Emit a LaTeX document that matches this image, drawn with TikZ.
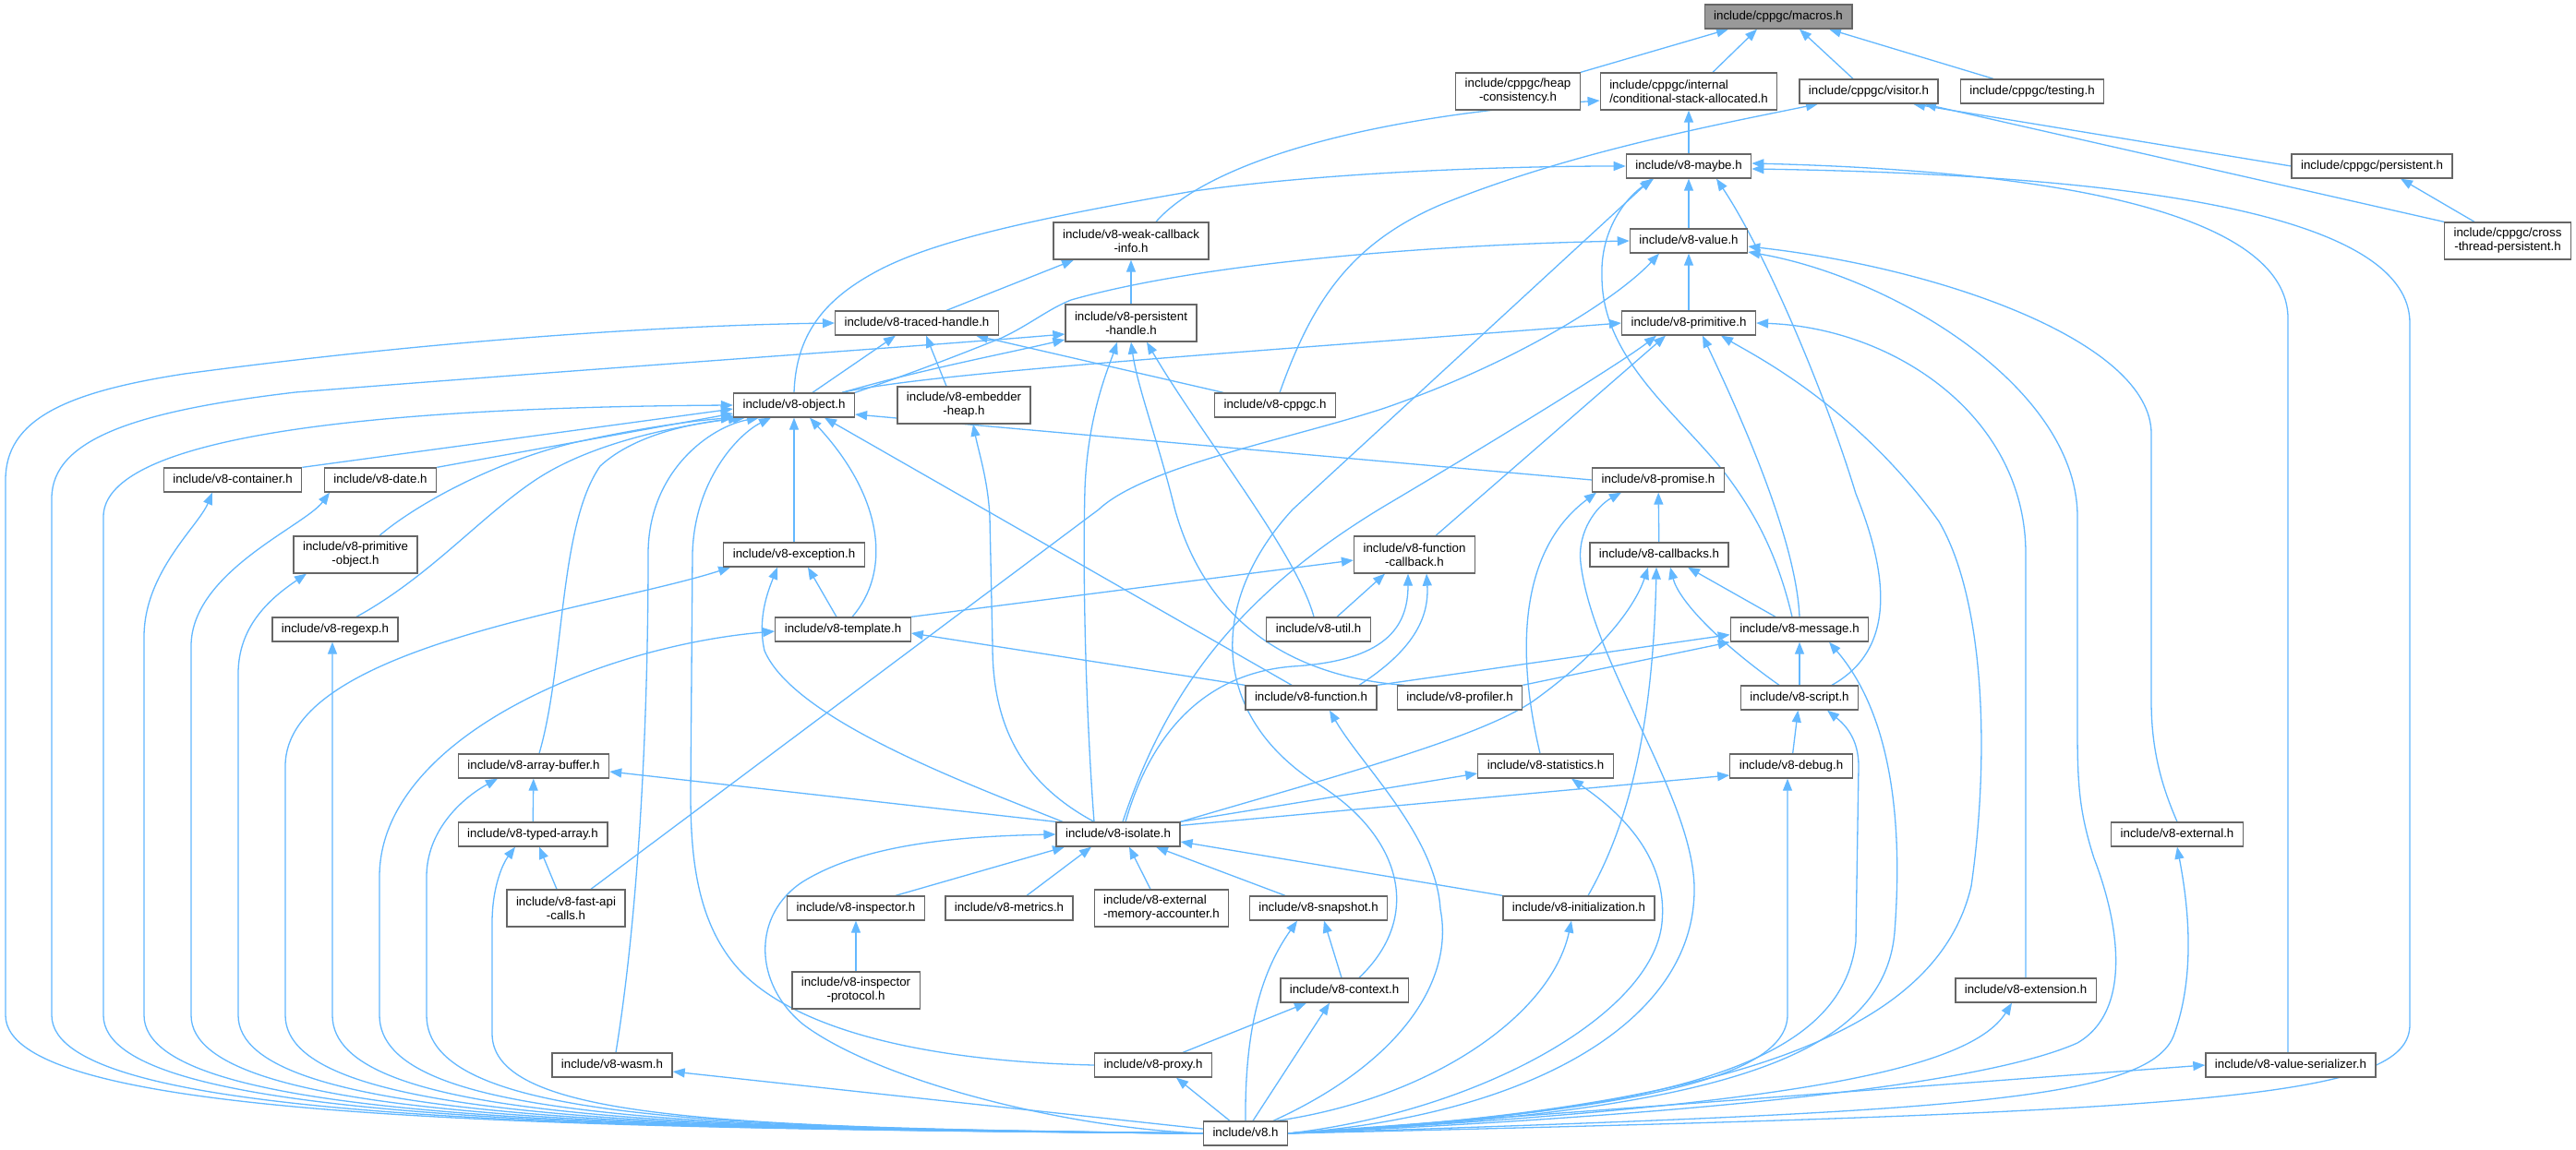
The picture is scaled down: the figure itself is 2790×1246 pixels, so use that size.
\documentclass[tikz,border=0pt]{standalone}
\usepackage{fontspec}
\setmainfont{Liberation Sans}
\usetikzlibrary{arrows.meta,backgrounds}
\definecolor{edgeblue}{HTML}{63B8FF}
\definecolor{boxframe}{HTML}{666666}
\definecolor{rootfill}{HTML}{999999}

\begin{document}
\begin{tikzpicture}[x=1pt,y=-1pt,
  hfile/.style={draw=boxframe,fill=white,line width=1.3pt,inner xsep=10pt,inner ysep=2pt,
    minimum height=26pt,text height=9.7pt,text depth=2.8pt,font=\fontsize{13.3}{15}\selectfont},
  twoline/.style={minimum height=40pt,align=center,text height={},text depth={}},
  root/.style={fill=rootfill},
  dep/.style={draw=edgeblue,line width=1.3pt,-{Triangle[length=13pt,width=10pt]}}]
\useasboundingbox (0,0) rectangle (2790,1246);

% files, row by row
\node[hfile,root] (macros) at (1926,18) {include/cppgc/macros.h};
\node[hfile,twoline] (heap) at (1644,99) {include/cppgc/heap\\-consistency.h};
\node[hfile,twoline,align=left] (cond) at (1829,99) {include/cppgc/internal\\/conditional-stack-allocated.h};
\node[hfile] (visitor) at (2024,99) {include/cppgc/visitor.h};
\node[hfile] (testing) at (2201,99) {include/cppgc/testing.h};
\node[hfile] (maybe) at (1829,180) {include/v8-maybe.h};
\node[hfile] (cppgcpers) at (2569,180) {include/cppgc/persistent.h};
\node[hfile,twoline] (cross) at (2716,261) {include/cppgc/cross\\-thread-persistent.h};
\node[hfile] (value) at (1829,261) {include/v8-value.h};
\node[hfile,twoline] (weak) at (1225,261) {include/v8-weak-callback\\-info.h};
\node[hfile] (primitive) at (1829,350) {include/v8-primitive.h};
\node[hfile,twoline] (persistent) at (1225,350) {include/v8-persistent\\-handle.h};
\node[hfile] (traced) at (993,350) {include/v8-traced-handle.h};
\node[hfile] (object) at (860,439) {include/v8-object.h};
\node[hfile,twoline] (embedder) at (1044,439) {include/v8-embedder\\-heap.h};
\node[hfile] (cppgc) at (1381,439) {include/v8-cppgc.h};
\node[hfile] (container) at (252,520) {include/v8-container.h};
\node[hfile] (date) at (412,520) {include/v8-date.h};
\node[hfile] (promise) at (1796,520) {include/v8-promise.h};
\node[hfile,twoline] (primobj) at (385,601) {include/v8-primitive\\-object.h};
\node[hfile] (exception) at (860,601) {include/v8-exception.h};
\node[hfile,twoline] (fcallback) at (1532,601) {include/v8-function\\-callback.h};
\node[hfile] (callbacks) at (1797,601) {include/v8-callbacks.h};
\node[hfile] (regexp) at (363,682) {include/v8-regexp.h};
\node[hfile] (template) at (913,682) {include/v8-template.h};
\node[hfile] (util) at (1428,682) {include/v8-util.h};
\node[hfile] (message) at (1949,682) {include/v8-message.h};
\node[hfile] (function) at (1420,756) {include/v8-function.h};
\node[hfile] (profiler) at (1581,756) {include/v8-profiler.h};
\node[hfile] (script) at (1949,756) {include/v8-script.h};
\node[hfile] (arraybuf) at (578,830) {include/v8-array-buffer.h};
\node[hfile] (statistics) at (1674,830) {include/v8-statistics.h};
\node[hfile] (debug) at (1940,830) {include/v8-debug.h};
\node[hfile] (isolate) at (1211,904) {include/v8-isolate.h};
\node[hfile] (typed) at (577,904) {include/v8-typed-array.h};
\node[hfile] (external) at (2358,904) {include/v8-external.h};
\node[hfile,twoline] (fastapi) at (613,984) {include/v8-fast-api\\-calls.h};
\node[hfile] (inspector) at (927,984) {include/v8-inspector.h};
\node[hfile] (metrics) at (1093,984) {include/v8-metrics.h};
\node[hfile,twoline,align=left] (extmem) at (1258,984) {include/v8-external\\-memory-accounter.h};
\node[hfile] (snapshot) at (1428,984) {include/v8-snapshot.h};
\node[hfile] (init) at (1710,984) {include/v8-initialization.h};
\node[hfile,twoline] (inspprot) at (927,1073) {include/v8-inspector\\-protocol.h};
\node[hfile] (context) at (1456,1073) {include/v8-context.h};
\node[hfile] (extension) at (2194,1073) {include/v8-extension.h};
\node[hfile] (wasm) at (663,1154) {include/v8-wasm.h};
\node[hfile] (proxy) at (1249,1154) {include/v8-proxy.h};
\node[hfile] (valueser) at (2481,1154) {include/v8-value-serializer.h};
\node[hfile] (v8) at (1349,1228) {include/v8.h};

\begin{scope}[on background layer]
\fill[white] (0,0) rectangle (2790,1246);

% short straight includes
\foreach \a/\b in {maybe/cond,value/maybe,primitive/value,persistent/weak,exception/object,
  callbacks/promise,debug/script,script/message,typed/arraybuf,inspprot/inspector}
  \draw[dep] (\a) -- (\b);

% cppgc headers
\draw[dep] (heap.north east) -- ([xshift=-54pt]macros.south);
\draw[dep] ([xshift=26pt]cond.north) -- ([xshift=-23pt]macros.south);
\draw[dep] ([xshift=-17pt]visitor.north) -- ([xshift=23pt]macros.south);
\draw[dep] ([xshift=-42pt]testing.north) -- ([xshift=55pt]macros.south);
\draw[dep] ([xshift=27pt]weak.north) .. controls (1300,185) and (1450,128) .. ([yshift=-10pt]cond.west);
\draw[dep] ([xshift=5pt]cppgc.north) .. controls (1420,330) and (1460,265) .. (1560,222) .. controls (1700,165) and (1860,135) .. ([xshift=-55pt]visitor.south);
\draw[dep] (cppgcpers.west) -- ([xshift=48pt]visitor.south);
\draw[dep] (cross.north west) -- ([xshift=60pt]visitor.south);
\draw[dep] ([xshift=-36pt]cross.north) -- ([xshift=31pt]cppgcpers.south);

% v8-maybe.h
\draw[dep] (object.north) .. controls (862,370) and (885,330) .. (944,297) .. controls (1000,265) and (1100,240) .. (1293,207) .. controls (1450,185) and (1650,180) .. (maybe.west);
\draw[dep] ([xshift=16pt]context.north) .. controls (1545,990) and (1515,900) .. (1420,845) .. controls (1310,770) and (1310,650) .. (1400,552) -- ([xshift=-40pt]maybe.south);
\draw[dep] ([xshift=-8pt]message.north) .. controls (1925,600) and (1900,555) .. (1870,515) .. controls (1820,450) and (1735,390) .. (1735,300) .. controls (1733,250) and (1760,215) .. ([xshift=-38pt]maybe.south);
\draw[dep] ([xshift=35pt]script.north) .. controls (2060,700) and (2040,610) .. (2010,535) .. controls (1975,420) and (1910,270) .. ([xshift=30pt]maybe.south);
\draw[dep] ([xshift=-3pt]valueser.north) -- (2478,345) .. controls (2478,250) and (2300,187) .. ([yshift=3pt]maybe.east);
\draw[dep] (v8.east) .. controls (2400,1205) and (2610,1190) .. (2610,1110) -- (2610,350) .. controls (2610,240) and (2350,190) .. ([yshift=-3pt]maybe.east);

% v8-value.h
\draw[dep] (object.north east) .. controls (1000,400) and (1050,380) .. (1085,366) .. controls (1115,352) and (1135,335) .. (1160,325) .. controls (1300,285) and (1550,265) .. (value.west);
\draw[dep] (external.north) .. controls (2345,860) and (2330,820) .. (2330,760) -- (2330,470) .. controls (2330,370) and (2100,290) .. ([yshift=-6pt]value.east);
\draw[dep] (v8.east) .. controls (1900,1205) and (2160,1170) .. (2250,1130) .. controls (2310,1095) and (2295,1000) .. (2268,930) .. controls (2252,880) and (2250,850) .. (2250,790) -- (2250,560) .. controls (2250,420) and (2050,300) .. ([yshift=-12pt]value.east);
\draw[dep] ([xshift=27pt]fastapi.north) -- (1190,552) .. controls (1240,505) and (1400,475) .. (1500,442) .. controls (1650,390) and (1755,320) .. ([xshift=-32pt]value.south);

% v8-primitive.h
\draw[dep] ([xshift=52pt]object.north) .. controls (1000,405) and (1300,385) .. (primitive.west);
\draw[dep] (extension.north) -- (2194,600) .. controls (2194,450) and (2050,355) .. (primitive.east);
\draw[dep] ([xshift=23pt]fcallback.north) -- ([xshift=-25pt]primitive.south);
\draw[dep] (message.north) .. controls (1945,580) and (1880,440) .. ([xshift=15pt]primitive.south);
\draw[dep] ([xshift=5pt]isolate.north) .. controls (1260,760) and (1330,650) .. (1500,548) .. controls (1640,465) and (1760,390) .. ([xshift=-35pt]primitive.south);
\draw[dep] (v8.east) .. controls (1900,1200) and (2100,1110) .. (2135,960) .. controls (2155,820) and (2150,650) .. (2100,565) .. controls (2010,440) and (1900,385) .. ([xshift=35pt]primitive.south);

% handles and weak callbacks
\draw[dep] ([xshift=32pt]traced.north) -- ([xshift=-62pt]weak.south);
\draw[dep] ([xshift=52pt]object.north) .. controls (1000,400) and (1080,385) .. ([yshift=-18pt]persistent.west);
\draw[dep] ([xshift=-26pt]isolate.north) .. controls (1178,800) and (1172,650) .. (1175,530) .. controls (1178,450) and (1200,400) .. ([xshift=-15pt]persistent.south);
\draw[dep] ([xshift=-5pt]util.north) .. controls (1405,600) and (1300,470) .. ([xshift=17pt]persistent.south);
\draw[dep] ([xshift=-60pt]profiler.north) .. controls (1420,735) and (1310,690) .. (1272,550) .. controls (1255,480) and (1232,420) .. (persistent.south);
\draw[dep] ([xshift=20pt]object.north) -- ([xshift=-23pt]traced.south);
\draw[dep] ([xshift=-19pt]embedder.north) -- ([xshift=10pt]traced.south);
\draw[dep] ([xshift=-56pt]cppgc.north) -- ([xshift=64pt]traced.south);
\draw[dep] ([xshift=-26pt]isolate.north) .. controls (1110,850) and (1075,790) .. (1075,700) -- (1072,560) .. controls (1070,520) and (1060,490) .. ([xshift=10pt]embedder.south);

% v8-object.h
\draw[dep] (container.north east) -- ([yshift=-4pt]object.west);
\draw[dep] (date.north east) -- ([yshift=-9pt]object.west);
\draw[dep] ([xshift=26pt]primobj.north) .. controls (440,555) and (520,505) .. (620,480) .. controls (700,462) and (760,455) .. (object.south west);
\draw[dep] ([xshift=23pt]regexp.north) .. controls (465,625) and (520,560) .. (580,520) .. controls (640,480) and (730,462) .. ([xshift=8pt]object.south west);
\draw[dep] ([xshift=6pt]arraybuf.north) .. controls (612,720) and (605,570) .. (650,505) .. controls (690,468) and (760,457) .. ([xshift=-53pt]object.south);
\draw[dep] ([xshift=4pt]wasm.north) .. controls (690,1000) and (702,800) .. (702,600) .. controls (702,510) and (770,462) .. ([xshift=-38pt]object.south);
\draw[dep] (proxy.west) .. controls (1000,1150) and (860,1115) .. (800,1050) .. controls (755,1000) and (748,930) .. (748,860) -- (750,600) .. controls (752,520) and (800,470) .. ([xshift=-25pt]object.south);
\draw[dep] ([xshift=10pt]template.north) .. controls (965,620) and (958,540) .. ([xshift=17pt]object.south);
\draw[dep] ([xshift=-21pt]function.north) -- ([xshift=33pt]object.south);
\draw[dep] (promise.west) -- ([yshift=-10pt]object.east);

% exception, template, function callback
\draw[dep] ([xshift=-7pt]template.north) -- ([xshift=15pt]exception.south);
\draw[dep] ([xshift=-60pt]isolate.north) .. controls (1050,850) and (860,780) .. (828,705) .. controls (820,670) and (832,640) .. ([xshift=-18pt]exception.south);
\draw[dep] (template.north east) -- ([yshift=-6pt]fcallback.west);
\draw[dep] ([xshift=20pt]util.north) -- ([xshift=-32pt]fcallback.south);
\draw[dep] ([xshift=52pt]function.north) .. controls (1530,705) and (1548,670) .. ([xshift=13pt]fcallback.south);
\draw[dep] ([xshift=8pt]isolate.north) .. controls (1245,800) and (1300,730) .. (1400,722) .. controls (1500,716) and (1525,680) .. ([xshift=-7pt]fcallback.south);
\draw[dep] (function.north west) -- ([yshift=-4pt]template.east);

% callbacks, promise, message
\draw[dep] ([xshift=-26pt]message.north) -- ([xshift=31pt]callbacks.south);
\draw[dep] ([xshift=-22pt]script.north) .. controls (1860,695) and (1818,650) .. ([xshift=12pt]callbacks.south);
\draw[dep] (isolate.north east) .. controls (1450,840) and (1600,800) .. (1660,760) .. controls (1730,710) and (1770,660) .. ([xshift=-12pt]callbacks.south);
\draw[dep] ([xshift=10pt]init.north) .. controls (1760,900) and (1790,800) .. ([xshift=-3pt]callbacks.south);
\draw[dep] ([xshift=-6pt]statistics.north) .. controls (1645,720) and (1640,600) .. ([xshift=5pt]promise.south west);
\draw[dep] (function.north east) -- ([yshift=8pt]message.south west);
\draw[dep] (profiler.north east) -- (message.south west);

% v8-isolate.h and its neighbours
\draw[dep] (isolate.north west) -- ([yshift=-6pt]arraybuf.east);
\draw[dep] (isolate.north east) -- ([yshift=-8pt]statistics.west);
\draw[dep] ([yshift=-4pt]isolate.north east) -- ([yshift=-10pt]debug.west);
\draw[dep] ([xshift=-10pt]fastapi.north) -- ([xshift=7pt]typed.south);
\draw[dep] ([xshift=43pt]inspector.north) -- ([xshift=-58pt]isolate.south);
\draw[dep] ([xshift=19pt]metrics.north) -- ([xshift=-29pt]isolate.south);
\draw[dep] ([xshift=-12pt]extmem.north) -- ([xshift=12pt]isolate.south);
\draw[dep] ([xshift=-36pt]snapshot.north) -- ([xshift=41pt]isolate.south);
\draw[dep] (init.north west) -- ([yshift=-8pt]isolate.east);
\draw[dep] ([xshift=-3pt]context.north) -- ([xshift=6pt]snapshot.south);
\draw[dep] ([xshift=32pt]proxy.north) -- ([xshift=-41pt]context.south);

% include/v8.h, left bundle
\draw[dep] (v8.west) .. controls (600,1222) and (6,1215) .. (6,1100) -- (6,520) .. controls (6,455) and (70,425) .. (200,405) .. controls (500,365) and (750,352) .. (traced.west);
\draw[dep] (v8.west) .. controls (620,1222) and (56,1215) .. (56,1100) -- (56,540) .. controls (56,475) and (150,445) .. (320,425) .. controls (700,395) and (1000,375) .. ([yshift=-12pt]persistent.west);
\draw[dep] (v8.west) .. controls (640,1222) and (112,1215) .. (112,1100) -- (112,560) .. controls (112,490) and (300,442) .. (object.west);
\draw[dep] (v8.west) .. controls (660,1222) and (156,1215) .. (156,1100) -- (156,690) .. controls (156,620) and (215,570) .. ([xshift=-22pt]container.south);
\draw[dep] (v8.west) .. controls (680,1222) and (207,1215) .. (207,1100) -- (207,700) .. controls (207,620) and (330,570) .. ([xshift=-55pt]date.south);
\draw[dep] (v8.west) .. controls (700,1222) and (258,1215) .. (258,1100) -- (258,730) .. controls (258,680) and (290,650) .. ([xshift=-53pt]primobj.south);
\draw[dep] (v8.west) .. controls (720,1222) and (309,1215) .. (309,1100) -- (309,830) .. controls (309,700) and (650,660) .. ([xshift=8pt]exception.south west);
\draw[dep] (v8.west) .. controls (740,1222) and (360,1215) .. (360,1100) -- ([xshift=-3pt]regexp.south);
\draw[dep] (v8.west) .. controls (760,1222) and (411,1215) .. (411,1100) -- (411,950) .. controls (411,800) and (650,700) .. ([yshift=-2pt]template.west);
\draw[dep] (v8.west) .. controls (780,1222) and (462,1215) .. (462,1100) -- (462,950) .. controls (462,900) and (500,865) .. ([xshift=-39pt]arraybuf.south);
\draw[dep] (v8.west) .. controls (800,1222) and (533,1215) .. (533,1120) -- (533,1000) .. controls (533,960) and (545,935) .. ([xshift=-19pt]typed.south);
\draw[dep] (v8.west) .. controls (1150,1222) and (950,1170) .. (870,1110) .. controls (815,1065) and (815,990) .. (870,955) .. controls (940,912) and (1050,906) .. (isolate.west);
\draw[dep] (v8) -- (wasm);

% include/v8.h, middle
\draw[dep] ([xshift=-17pt]v8.north) -- ([xshift=25pt]proxy.south);
\draw[dep] ([xshift=8pt]v8.north) -- ([xshift=-16pt]context.south);
\draw[dep] (v8.north) .. controls (1348,1110) and (1368,1050) .. ([xshift=-23pt]snapshot.south);
\draw[dep] ([xshift=30pt]v8.north) .. controls (1520,1150) and (1575,1060) .. (1560,985) .. controls (1555,905) and (1475,830) .. ([xshift=20pt]function.south);
\draw[dep] ([xshift=34pt]v8.north) .. controls (1550,1190) and (1680,1100) .. ([xshift=-8pt]init.south);

% include/v8.h, right side
\draw[dep] (v8.east) .. controls (1650,1210) and (1838,1110) .. (1835,960) .. controls (1832,860) and (1725,720) .. (1712,610) .. controls (1708,575) and (1730,548) .. ([xshift=-40pt]promise.south);
\draw[dep] (v8.east) .. controls (1600,1205) and (1790,1100) .. (1800,1000) .. controls (1808,920) and (1740,870) .. ([xshift=28pt]statistics.south);
\draw[dep] (v8.east) .. controls (1760,1205) and (1935,1170) .. (1936,1100) -- ([xshift=-4pt]debug.south);
\draw[dep] (v8.east) .. controls (1820,1205) and (1995,1150) .. (2010,1020) -- (2013,830) .. controls (2013,800) and (1998,785) .. ([xshift=30pt]script.south);
\draw[dep] (v8.east) .. controls (1850,1205) and (2040,1150) .. (2052,1010) .. controls (2062,880) and (2045,770) .. ([xshift=32pt]message.south);
\draw[dep] (v8.east) .. controls (1900,1200) and (2130,1165) .. ([xshift=-15pt]extension.south);
\draw[dep] (v8.east) .. controls (2100,1205) and (2330,1195) .. (2355,1120) .. controls (2380,1050) and (2368,970) .. (external.south);
\draw[dep] (v8.east) -- (valueser.west);
\end{scope}
\end{tikzpicture}
\end{document}
